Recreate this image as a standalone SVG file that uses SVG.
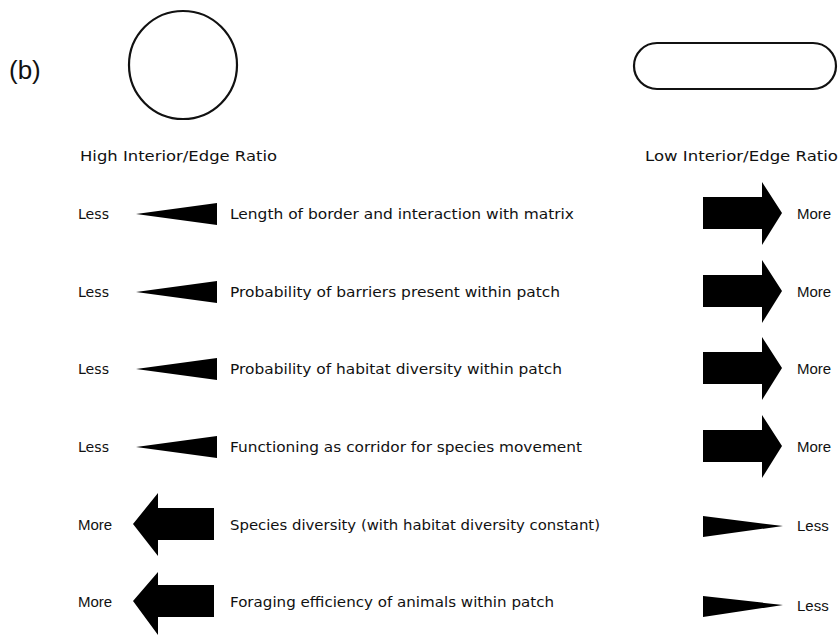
<svg xmlns="http://www.w3.org/2000/svg" width="839" height="639" viewBox="0 0 839 639">
<style>
.t{font-family:"DejaVu Sans","Liberation Sans",sans-serif;font-size:14.5px;fill:#111}
.a{font-family:"Liberation Sans",Arial,sans-serif;font-size:15px;fill:#111}
.s{fill:none;stroke:#111;stroke-width:2.2}
.f{fill:#000}
</style>
<rect width="839" height="639" fill="#fff"/>
<text x="9" y="79" font-family="Liberation Sans,Arial,sans-serif" font-size="26" fill="#111">(b)</text>
<g id="shape-high"><circle class="s" cx="183" cy="65" r="54"/></g>
<g id="shape-low"><rect class="s" x="634" y="43" width="202" height="46" rx="23"/></g>
<g id="headers">
<text class="t" x="80" y="161" textLength="197" lengthAdjust="spacingAndGlyphs">High Interior/Edge Ratio</text>
<text class="t" x="645" y="161" textLength="193" lengthAdjust="spacingAndGlyphs">Low Interior/Edge Ratio</text>
</g>
<g id="connectors">
<polygon class="f" points="136,214 217,203 217,225"/>
<polygon class="f" points="703,197 762,197 762,182 782,213 762,245 762,229 703,229"/>
<polygon class="f" points="136,292 217,281 217,303"/>
<polygon class="f" points="703,275 762,275 762,260 782,291 762,323 762,307 703,307"/>
<polygon class="f" points="136,369 217,358 217,380"/>
<polygon class="f" points="703,352 762,352 762,337 782,368 762,400 762,384 703,384"/>
<polygon class="f" points="136,447 217,436 217,458"/>
<polygon class="f" points="703,430 762,430 762,415 782,446 762,478 762,462 703,462"/>
<polygon class="f" points="214,508 158,508 158,493 133,524 158,556 158,540 214,540"/>
<polygon class="f" points="703,516 783,526 703,537"/>
<polygon class="f" points="214,585 158,585 158,572 133,601 158,635 158,617 214,617"/>
<polygon class="f" points="703,596 783,605 703,617"/>
</g>
<g id="row1">
<text class="t" x="78" y="219" textLength="31" lengthAdjust="spacingAndGlyphs">Less</text>
<text class="t" x="230" y="219" textLength="344" lengthAdjust="spacingAndGlyphs">Length of border and interaction with matrix</text>
<text class="a" x="797" y="219">More</text>
</g>
<g id="row2">
<text class="t" x="78" y="297" textLength="31" lengthAdjust="spacingAndGlyphs">Less</text>
<text class="t" x="230" y="297" textLength="330" lengthAdjust="spacingAndGlyphs">Probability of barriers present within patch</text>
<text class="a" x="797" y="297">More</text>
</g>
<g id="row3">
<text class="t" x="78" y="374" textLength="31" lengthAdjust="spacingAndGlyphs">Less</text>
<text class="t" x="230" y="374" textLength="332" lengthAdjust="spacingAndGlyphs">Probability of habitat diversity within patch</text>
<text class="a" x="797" y="374">More</text>
</g>
<g id="row4">
<text class="t" x="78" y="452" textLength="31" lengthAdjust="spacingAndGlyphs">Less</text>
<text class="t" x="230" y="452" textLength="352" lengthAdjust="spacingAndGlyphs">Functioning as corridor for species movement</text>
<text class="a" x="797" y="452">More</text>
</g>
<g id="row5">
<text class="a" x="78" y="530">More</text>
<text class="t" x="230" y="530" textLength="370" lengthAdjust="spacingAndGlyphs">Species diversity (with habitat diversity constant)</text>
<text class="a" x="797" y="531">Less</text>
</g>
<g id="row6">
<text class="a" x="78" y="607">More</text>
<text class="t" x="230" y="607" textLength="324" lengthAdjust="spacingAndGlyphs">Foraging efficiency of animals within patch</text>
<text class="a" x="797" y="611">Less</text>
</g>
</svg>
